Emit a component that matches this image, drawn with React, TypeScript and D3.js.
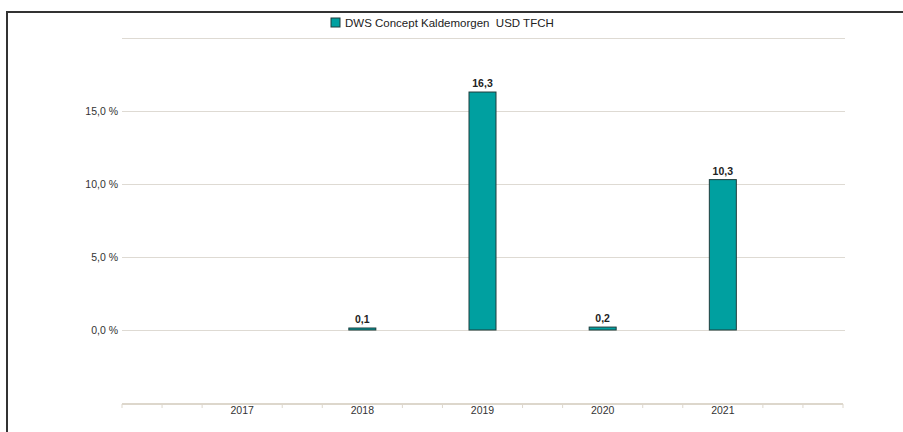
import * as d3 from "d3";
import { useEffect, useRef } from "react";

const years = [2017, 2018, 2019, 2020, 2021];
const values: (number | null)[] = [null, 0.1, 16.3, 0.2, 10.3];
const yTicks = [0, 5, 10, 15, 20];
const seriesName = "DWS Concept Kaldemorgen  USD TFCH";

const App = () => {
  const ref = useRef<SVGSVGElement | null>(null);

  useEffect(() => {
    const svg = d3.select(ref.current);
    svg.selectAll("*").remove();

    const width = 903,
      height = 432;
    const font = "'Liberation Sans', Arial, sans-serif";

    const x = d3.scaleLinear().domain([2016, 2022]).range([122, 843]);
    const y = d3.scaleLinear().domain([-5, 20]).range([403, 38]);

    // frame
    svg
      .append("path")
      .attr("d", `M7,${height} L7,12 L${width},12`)
      .attr("fill", "none")
      .attr("stroke", "#333")
      .attr("stroke-width", 2);

    // legend
    const legend = svg.append("g").attr("transform", "translate(331,18)");
    legend
      .append("rect")
      .attr("width", 9)
      .attr("height", 9)
      .attr("fill", "#00a0a0")
      .attr("stroke", "#1e3c3c")
      .attr("stroke-width", 1);
    legend
      .append("text")
      .attr("x", 14)
      .attr("y", 9)
      .attr("font-family", font)
      .attr("font-size", 11.5)
      .attr("fill", "#222")
      .attr("xml:space", "preserve")
      .style("white-space", "pre")
      .text(seriesName);

    // grid + y labels
    const grid = svg.append("g");
    grid
      .selectAll("line")
      .data(yTicks)
      .join("line")
      .attr("x1", 122)
      .attr("x2", 845)
      .attr("y1", (d) => y(d) + 0.5)
      .attr("y2", (d) => y(d) + 0.5)
      .attr("stroke", "#dedad3")
      .attr("stroke-width", 1);
    grid
      .selectAll("text")
      .data(yTicks.filter((d) => d < 20))
      .join("text")
      .attr("x", 118)
      .attr("y", (d) => y(d) + 4)
      .attr("text-anchor", "end")
      .attr("font-family", font)
      .attr("font-size", 10.5)
      .attr("fill", "#333")
      .text((d) => d3.format(".1f")(d).replace(".", ",") + " %");

    // bars
    const barW = 27;
    const data = years
      .map((yr, i) => ({ yr, v: values[i] }))
      .filter((d) => d.v !== null) as { yr: number; v: number }[];
    svg
      .append("g")
      .selectAll("rect")
      .data(data)
      .join("rect")
      .attr("x", (d) => x(d.yr) - barW / 2)
      .attr("y", (d) => Math.min(y(d.v), y(0) - 2))
      .attr("width", barW)
      .attr("height", (d) => Math.max(y(0) - y(d.v), 2))
      .attr("fill", "#00a0a0")
      .attr("stroke", "#1e3c3c")
      .attr("stroke-width", 1);
    svg
      .append("g")
      .selectAll("text")
      .data(data)
      .join("text")
      .attr("x", (d) => x(d.yr))
      .attr("y", (d) => Math.min(y(d.v), y(0) - 2) - 5)
      .attr("text-anchor", "middle")
      .attr("font-family", font)
      .attr("font-size", 10.5)
      .attr("font-weight", "bold")
      .attr("fill", "#222")
      .text((d) => d3.format(".1f")(d.v).replace(".", ","));

    // x axis
    const axis = svg.append("g");
    axis
      .append("line")
      .attr("x1", x(2016))
      .attr("x2", x(2022))
      .attr("y1", 404)
      .attr("y2", 404)
      .attr("stroke", "#ddd7cc")
      .attr("stroke-width", 2);
    const minor = d3.range(0, 19).map((i) => 2016 + i / 3);
    axis
      .selectAll("line.tick")
      .data(minor.filter((_, i) => i % 3 !== 0 || i === 0 || i === 18))
      .join("line")
      .attr("class", "tick")
      .attr("x1", (d) => x(d))
      .attr("x2", (d) => x(d))
      .attr("y1", 404)
      .attr("y2", 408)
      .attr("stroke", "#ddd7cc")
      .attr("stroke-width", 1);
    axis
      .selectAll("text")
      .data(years)
      .join("text")
      .attr("x", (d) => x(d))
      .attr("y", 414)
      .attr("text-anchor", "middle")
      .attr("font-family", font)
      .attr("font-size", 10.5)
      .attr("fill", "#333")
      .text((d) => String(d));
  }, []);

  return (
    <svg
      ref={ref}
      width={903}
      height={432}
      style={{ position: "absolute", left: 0, top: 0, background: "#fff" }}
    ></svg>
  );
};

export default App;
